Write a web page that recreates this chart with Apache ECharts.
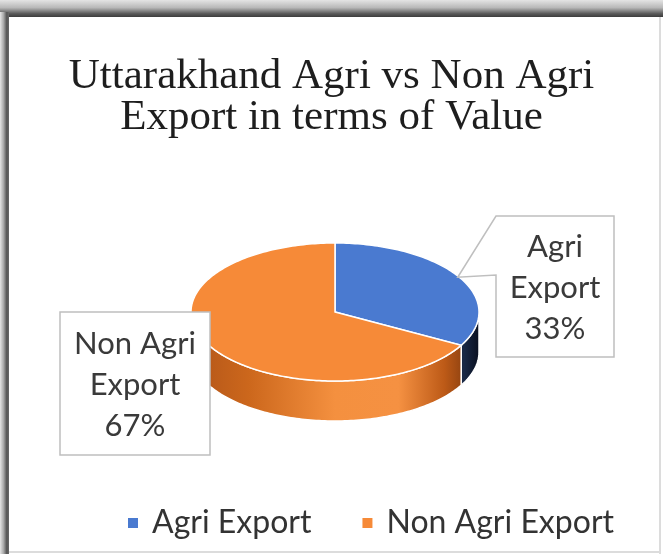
<!DOCTYPE html>
<html><head><meta charset="utf-8">
<script src="https://cdn.jsdelivr.net/npm/echarts@6/dist/echarts.min.js"></script>
<style>html,body{margin:0;padding:0;background:#fff}#c{width:663px;height:554px}</style>
</head><body><div id="c"></div>
<script>
// ---- data ----
const categories = ['Agri Export', 'Non Agri Export'];
const values = [33, 67];
const titleLines = ['Uttarakhand Agri vs Non Agri', 'Export in terms of Value'];

// ---- styles / layout ----
const topColors = ['#4a7ad0', '#f68a38'];
const sideStops = [
  [[0, '#0c1426'], [0.85, '#1e3054'], [0.95, '#182744'], [1, '#0a1020']],
  [[0, '#b25519'], [0.2, '#cc671c'], [0.5, '#f4903f'], [0.72, '#f59142'], [0.88, '#bd5a17'], [1, '#6e300b']]
];
const G = { cx: 335, cy: 312, rx: 144, ry: 69, h: 40 };
const boxes = [
  { x: 496, y: 216, w: 118, h: 141, pointer: true },
  { x: 60, y: 312, w: 150, h: 143, pointer: false }
];

const total = values.reduce((a, b) => a + b, 0);
const starts = values.map((v, i) => values.slice(0, i).reduce((a, b) => a + b, 0));

function renderSlice(params, api) {
  const idx = params.seriesIndex;
  const v = api.value(0), start = api.value(1), tot = api.value(2);
  const t1 = start / tot * 2 * Math.PI, t2 = (start + v) / tot * 2 * Math.PI;
  const P = (t, dy, f) => [G.cx + (f || 1) * G.rx * Math.sin(t), G.cy - (f || 1) * G.ry * Math.cos(t) + dy];
  const arc = (a, b, dy) => {
    const n = Math.max(2, Math.ceil((b - a) / 0.02));
    const pts = [];
    for (let k = 0; k <= n; k++) pts.push(P(a + (b - a) * k / n, dy));
    return pts;
  };
  const children = [];
  children.push({
    type: 'polygon', z2: 5,
    shape: { points: [[G.cx, G.cy]].concat(arc(t1, t2, 0)) },
    style: { fill: topColors[idx], stroke: '#ffffff', lineWidth: 1.5 }
  });
  const a = Math.max(t1, Math.PI / 2), b = Math.min(t2, 3 * Math.PI / 2);
  if (a < b) {
    const pts = arc(a, b, 0).concat(arc(a, b, G.h).reverse());
    children.push({
      type: 'polygon', z2: 1,
      shape: { points: pts },
      style: {
        fill: new echarts.graphic.LinearGradient(G.cx - G.rx, 0, G.cx + G.rx, 0,
          sideStops[idx].map(s => ({ offset: s[0], color: s[1] })), true),
        stroke: '#ffffff', lineWidth: 1.5
      }
    });
  }
  // label callout
  const bx = boxes[idx];
  let pts;
  if (bx.pointer) {
    const anc = P((t1 + t2) / 2, 0, 0.99);
    pts = [[bx.x, bx.y], [bx.x + bx.w, bx.y], [bx.x + bx.w, bx.y + bx.h], [bx.x, bx.y + bx.h],
           [bx.x, bx.y + 59], anc];
  } else {
    pts = [[bx.x, bx.y], [bx.x + bx.w, bx.y], [bx.x + bx.w, bx.y + bx.h], [bx.x, bx.y + bx.h]];
  }
  children.push({
    type: 'polygon', z2: 20, shape: { points: pts },
    style: { fill: '#ffffff', stroke: '#bfbfbf', lineWidth: 1.5 }
  });
  const name = categories[idx];
  const sp = name.lastIndexOf(' ');
  const txt = name.slice(0, sp) + '\n' + name.slice(sp + 1) + '\n' + Math.round(v / tot * 100) + '%';
  children.push({
    type: 'text', z2: 21,
    style: {
      text: txt, x: bx.x + bx.w / 2, y: bx.y + bx.h / 2 + 1,
      align: 'center', verticalAlign: 'middle',
      fontFamily: 'Lato', fontSize: 31, lineHeight: 41, fill: '#3a3a3a'
    }
  });
  return { type: 'group', children };
}

const chart = echarts.init(document.getElementById('c'), null, { renderer: 'canvas' });
chart.setOption({
  animation: false,
  backgroundColor: '#ffffff',
  title: {
    text: titleLines.join('\n'),
    left: 'center', top: 51,
    textStyle: { fontFamily: 'Liberation Serif', fontSize: 43, fontWeight: 'normal', color: '#1e1e1e', lineHeight: 41 }
  },
  legend: {
    data: categories,
    left: 123, top: 500,
    icon: 'rect', itemWidth: 10, itemHeight: 10, itemGap: 51,
    textStyle: { fontFamily: 'Lato', fontSize: 32, color: '#333333', padding: [0, 0, 0, 9], lineHeight: 36 }
  },
  graphic: [
    { type: 'rect', z: 100, shape: { x: 0, y: 0, width: 663, height: 17 },
      style: { fill: new echarts.graphic.LinearGradient(0, 0, 0, 1, [
        { offset: 0, color: '#e4e4e4' }, { offset: 0.45, color: '#b8b8b8' },
        { offset: 0.8, color: '#5a5a5a' }, { offset: 1, color: '#3c3c3c' }]) } },
    { type: 'rect', z: 100, shape: { x: 0, y: 12, width: 9, height: 542 },
      style: { fill: new echarts.graphic.LinearGradient(0, 0, 1, 0, [
        { offset: 0, color: '#e6e6e6' }, { offset: 0.4, color: '#a8a8a8' },
        { offset: 0.75, color: '#555555' }, { offset: 1, color: '#6a6a6a' }]) } },
    { type: 'rect', z: 100, shape: { x: 659, y: 17, width: 2, height: 537 }, style: { fill: '#dcdcdc' } },
    { type: 'rect', z: 100, shape: { x: 9, y: 551, width: 652, height: 2 }, style: { fill: '#dcdcdc' } }
  ],
  series: categories.map((c, i) => ({
    type: 'custom',
    name: c,
    coordinateSystem: 'none',
    itemStyle: { color: topColors[i] },
    renderItem: renderSlice,
    data: [[values[i], starts[i], total]]
  }))
});
</script>
</body></html>
